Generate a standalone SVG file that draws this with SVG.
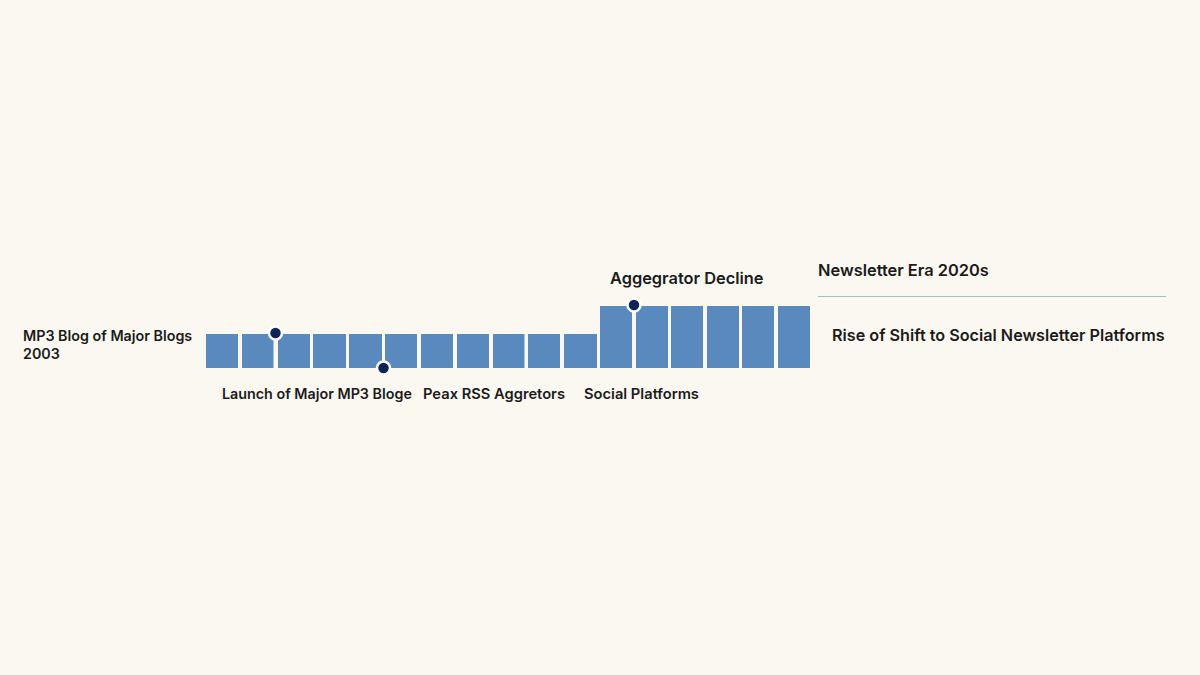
<svg xmlns="http://www.w3.org/2000/svg" width="1200" height="675" viewBox="0 0 1200 675">
<style>
.bar{fill:#5a8abd}
.dot{fill:#0f2456;stroke:#ffffff;stroke-width:2.5}
.t{font-family:Inter,"Liberation Sans",sans-serif;fill:#1b1b1b;font-weight:600}
.s{font-size:14.3px}
.s2{font-size:14.7px}
.m{font-size:16.2px}
.l{font-size:16.4px}
</style>
<rect width="1200" height="675" fill="#fbf8f2"/>
<g id="bars">
<rect class="bar" x="206" y="334" width="32" height="34"/>
<rect class="bar" x="242" y="334" width="31.5" height="34"/>
<rect class="bar" x="278" y="334" width="32" height="34"/>
<rect class="bar" x="313" y="334" width="33" height="34"/>
<rect class="bar" x="349" y="334" width="33" height="34"/>
<rect class="bar" x="385" y="334" width="32" height="34"/>
<rect class="bar" x="421" y="334" width="32" height="34"/>
<rect class="bar" x="457" y="334" width="32" height="34"/>
<rect class="bar" x="493" y="334" width="31.5" height="34"/>
<rect class="bar" x="528" y="334" width="32" height="34"/>
<rect class="bar" x="564" y="334" width="33" height="34"/>
<rect class="bar" x="600" y="306" width="32" height="62"/>
<rect class="bar" x="636" y="306" width="32" height="62"/>
<rect class="bar" x="671" y="306" width="32" height="62"/>
<rect class="bar" x="707" y="306" width="32" height="62"/>
<rect class="bar" x="742" y="306" width="32" height="62"/>
<rect class="bar" x="778" y="306" width="32" height="62"/>
</g>
<g id="connectors">
<line x1="818" y1="296.5" x2="1166" y2="296.5" stroke="#aab9cc" stroke-width="1.2"/>
</g>
<g id="marker-launch"><circle class="dot" cx="275.5" cy="333" r="6.5"/></g>
<g id="marker-peak"><circle class="dot" cx="383.5" cy="368" r="6.5"/></g>
<g id="marker-decline"><circle class="dot" cx="634" cy="305" r="6.5"/></g>
<g id="label-start">
<text class="t s" x="23" y="341">MP3 Blog of Major Blogs</text>
<text class="t s" x="23" y="359">2003</text>
</g>
<g id="label-launch"><text class="t s" x="222" y="399">Launch of Major MP3 Bloge</text></g>
<g id="label-peak"><text class="t s2" x="423" y="399">Peax RSS Aggretors</text></g>
<g id="label-social"><text class="t s2" x="584" y="399">Social Platforms</text></g>
<g id="label-decline"><text class="t l" x="610" y="284">Aggegrator Decline</text></g>
<g id="label-era"><text class="t l" x="818" y="276">Newsletter Era 2020s</text></g>
<g id="label-rise"><text class="t m" x="832" y="341">Rise of Shift to Social Newsletter Platforms</text></g>
</svg>
